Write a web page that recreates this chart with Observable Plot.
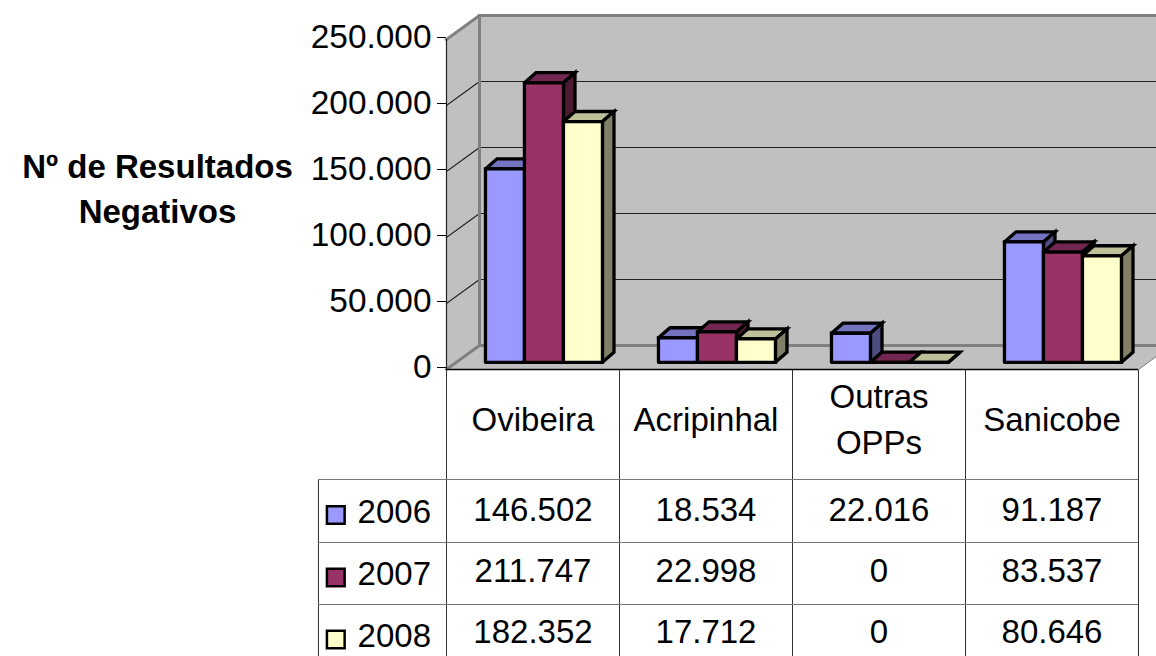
<!DOCTYPE html>
<html>
<head>
<meta charset="utf-8">
<script src="https://cdn.jsdelivr.net/npm/d3@7"></script>
<script src="https://cdn.jsdelivr.net/npm/@observablehq/plot@0.6"></script>
<style>
html,body{margin:0;padding:0;background:#fff;overflow:hidden}
#chart{position:relative;width:1156px;height:656px}
#chart svg{display:block;position:absolute;left:0}
</style>
</head>
<body>
<div id="chart"></div>
<script>
const categories = ["Ovibeira", "Acripinhal", "Outras\nOPPs", "Sanicobe"];
const years = ["2006", "2007", "2008"];
const values2006 = [146502, 18534, 22016, 91187];
const values2007 = [211747, 22998, 0, 83537];
const values2008 = [182352, 17712, 0, 80646];
const yTicks = [0, 50000, 100000, 150000, 200000, 250000];
const faceColors = ["#9999FF", "#993366", "#FFFFCC"];
const topColors = ["#7373BF", "#732650", "#BFBF99"];
const sideColors = ["#4D4D80", "#4D1933", "#808066"];
const seriesValues = [values2006, values2007, values2008];

const font = "'Liberation Sans', Arial, sans-serif";
const fmt = d3.formatLocale({decimal: ",", thousands: ".", grouping: [3], currency: ["", ""]}).format(",d");

// Projection of the chart's depth axis onto its x and y scales
const DX = 33 / 173, DY = 18182, YMAX = 250000;
const barStart = 0.168, barStep = 0.2254, depthNear = 0.3, depthFarX = 0.65, depthFarY = 0.72;
const P = (x, y, dx = 0, dy = dx) => ({x: x + dx * DX, y: y + dy * DY});

const poly = (pts, fill, o = {}) => Plot.line([...pts, pts[0]], {
  x: "x", y: "y", fill, stroke: o.stroke ?? "none", strokeWidth: o.w ?? 1,
  strokeLinejoin: "miter", strokeMiterlimit: 4
});
const path = (pts, stroke, w) => Plot.line(pts, {
  x: "x", y: "y", stroke, strokeWidth: w, strokeLinejoin: "miter", strokeLinecap: "square"
});

const wallMarks = [
  poly([P(0, 0), P(0, YMAX), P(0, YMAX, 1), P(0, 0, 1)], "#C0C0C0"),
  poly([P(0, 0, 1), P(0, YMAX, 1), P(4, YMAX, 1), P(4, 0, 1)], "#C0C0C0"),
  poly([P(0, 0), P(4, 0), P(4, 0, 1), P(0, 0, 1)], "#C0C0C0"),
  ...yTicks.slice(1, -1).map(v => path([P(0, v), P(0, v, 1), P(4, v, 1)], "#222", 1.2)),
  path([P(0, 0), P(0, 0, 1), P(4, 0, 1)], "#808080", 3),
  path([P(4, 0), P(4, 0, 1)], "#808080", 1),
  path([P(0, YMAX), P(0, YMAX, 1), P(4, YMAX, 1)], "#808080", 3),
  path([P(0, 0, 1), P(0, YMAX, 1)], "#808080", 3),
];

const barMarks = categories.flatMap((c, i) => years.flatMap((yr, s) => {
  const v = seriesValues[s][i];
  const x0 = i + barStart + s * barStep, x1 = x0 + barStep;
  const style = {stroke: "#000", w: 3.3};
  const far = [depthFarX, depthFarY];
  return [
    poly([P(x0, v, depthNear), P(x1, v, depthNear), P(x1, v, ...far), P(x0, v, ...far)], topColors[s], style),
    poly([P(x1, 0, depthNear), P(x1, v, depthNear), P(x1, v, ...far), P(x1, 0, ...far)], sideColors[s], style),
    poly([P(x0, 0, depthNear), P(x0, v, depthNear), P(x1, v, depthNear), P(x1, 0, depthNear)], faceColors[s], style),
  ];
}));

const chart = Plot.plot({
  width: 1156, height: 400,
  marginLeft: 446, marginRight: 18, marginTop: 39, marginBottom: 31,
  style: {fontFamily: font, background: "transparent", overflow: "hidden"},
  x: {domain: [0, 4], axis: null},
  y: {domain: [0, YMAX]},
  marks: [
    ...wallMarks,
    ...barMarks,
    Plot.axisY({
      ticks: yTicks, tickFormat: fmt, tickSize: 9, tickPadding: 6, label: null,
      fontSize: 33.4, fill: "#000", stroke: "#000", dy: -2, textStroke: "none"
    }),
    Plot.ruleX([0], {y1: 0, y2: YMAX, stroke: "#222", strokeWidth: 1.2}),
    Plot.ruleY([0], {x1: 0, x2: 4, stroke: "#000", strokeWidth: 1.5}),
    Plot.text(["Nº de Resultados\nNegativos"], {
      frameAnchor: "top-left", dx: -289, dy: 106, text: d => d,
      fontSize: 33, fontWeight: "bold", letterSpacing: 1.3, lineHeight: 1.37, fill: "#000", textAnchor: "middle"
    })
  ]
});

// Data table below the plot
const legendLeft = -0.74, legendSwatch = -0.64, legendLabel = -0.514;
const rowIdx = r => r + 1.5;
const cells = years.flatMap((yr, r) => categories.map((c, i) => ({col: i + 0.5, row: rowIdx(r), text: fmt(seriesValues[r][i])})));
const valueShift = [-1, -2, -3];
const legend = years.map((yr, r) => ({yr, row: rowIdx(r), color: faceColors[r]}));

const table = Plot.plot({
  width: 1156, height: 287,
  marginLeft: 446, marginRight: 18, marginTop: 0, marginBottom: 0,
  style: {fontFamily: font, background: "#fff", overflow: "hidden"},
  x: {domain: [0, 4], axis: null},
  y: {type: "linear", domain: [0, 1, 2, 3, 4], range: [0, 110, 173, 235, 297], axis: null},
  color: {type: "identity"},
  marks: [
    Plot.ruleX(d3.range(5), {y1: 0, y2: 4, stroke: "#333", strokeWidth: 1}),
    Plot.ruleX([legendLeft], {y1: 1, y2: 4, stroke: "#333", strokeWidth: 1}),
    Plot.ruleY([1, 2, 3], {x1: legendLeft, x2: 4, stroke: "#777", strokeWidth: 1}),
    Plot.text(categories, {
      x: (d, i) => i + 0.5, y: () => 0.5, text: d => d, dy: -8,
      fontSize: 33, lineHeight: 1.39, fill: "#000"
    }),
    ...[0, 1, 2].map(r => Plot.text(cells.filter(c => c.row === rowIdx(r)), {
      x: "col", y: "row", text: "text", dy: valueShift[r], fontSize: 33, fill: "#000"
    })),
    Plot.dot(legend, {
      x: () => legendSwatch, y: "row", symbol: "square", r: 10, dy: 4,
      fill: "color", stroke: "#000", strokeWidth: 2.5
    }),
    Plot.text(legend, {
      x: () => legendLabel, y: "row", text: "yr", textAnchor: "start", dy: 1, fontSize: 33, fill: "#000"
    })
  ]
});

const host = document.getElementById("chart");
table.style.top = "369px";
chart.style.top = "0px";
host.appendChild(table);
host.appendChild(chart);
</script>
</body>
</html>
